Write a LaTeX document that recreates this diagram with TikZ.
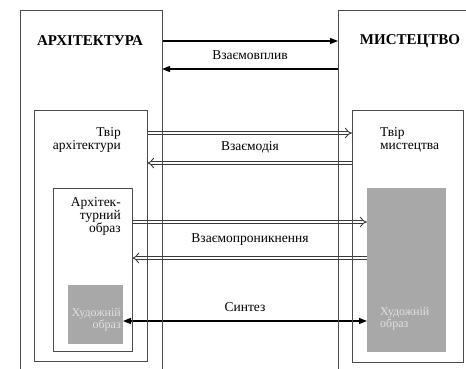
\documentclass[tikz,border=0pt]{standalone}
\usepackage{fontspec}
\setmainfont{Liberation Serif}
\newfontfamily\bookface{Liberation Serif}
\usetikzlibrary{arrows.meta,positioning,backgrounds}

\begin{document}
\begin{tikzpicture}[x=1pt, y=-1pt, every node/.style={font=\bookface\fontsize{13.5}{13}\selectfont},
  frame/.style={draw=black!70,line width=0.9pt,inner sep=0pt,outer sep=0pt,anchor=north west},
  shade/.style={fill=black!34,draw=none,inner sep=0pt,outer sep=0pt,anchor=north west},
  title/.style={font=\bookface\fontsize{15}{15}\selectfont\bfseries},
  caption/.style={inner sep=0pt},
  pale/.style={inner sep=0pt,text=white!88!black,font=\bookface\fontsize{12}{12}\selectfont},
  link/.style={line width=1.3pt,-{Triangle[length=8pt,width=6pt]}},
  flow/.style={draw=black!78,line width=0.9pt,double,double distance=2.8pt,-{Implies[scale=1.5]}},
  >=Stealth]
\useasboundingbox (0,0) rectangle (466,368);
\clip (0,0) rectangle (466,368);
% outer frames
\node[frame,minimum width=142pt,minimum height=370pt] (arch) at (20,10) {};
\node[frame,minimum width=142pt,minimum height=370pt] (art) at (338,10) {};
\node[title] (archname) at (90,41) {АРХІТЕКТУРА};
\node[title] (artname) at (410,41) {МИСТЕЦТВО};
% works
\node[frame,minimum width=113pt,minimum height=251pt] (archwork) at (34,110) {};
\node[frame,minimum width=111pt,minimum height=252pt] (artwork) at (352,110) {};
\node[caption,align=right,anchor=north east] (archworkname) at (121,127) {Твір\\архітектури};
\node[caption,align=left,anchor=north west] (artworkname) at (380,127) {Твір\\мистецтва};
% images
\node[frame,minimum width=79pt,minimum height=163pt] (archimage) at (53,188) {};
\node[caption,align=right,anchor=north east,font=\bookface\fontsize{13.5}{12}\selectfont] (archimagename) at (121,197) {Архітек-\\турний\\образ};
\node[shade,minimum width=55pt,minimum height=59pt] (archgrey) at (68,285) {};
\node[shade,minimum width=79pt,minimum height=164pt] (artgrey) at (367,188) {};
\node[pale,align=right,anchor=north east] (archgreyname) at (121,308) {Художній\\образ};
\node[pale,align=left,anchor=north west] (artgreyname) at (380,307) {Художній\\образ};
% labels
\node (influence) at (250,55) {Взаємовплив};
\node (interaction) at (250,147) {Взаємодія};
\node (penetration) at (250,240) {Взаємопроникнення};
\node (synthesis) at (245,307) {Синтез};
\begin{scope}[on background layer]
\draw[link] ([yshift=-31pt]arch.north east) -- ([yshift=-31pt]art.north west);
\draw[link] ([yshift=-59pt]art.north west) -- ([yshift=-59pt]arch.north east);
\draw[flow] ([yshift=-23pt]archwork.north east) -- ([yshift=-23pt]artwork.north west);
\draw[flow] ([yshift=-53pt]artwork.north west) -- ([yshift=-53pt]archwork.north east);
\draw[flow] ([yshift=-34pt]archimage.north east) -- ([yshift=-34pt]artgrey.north west);
\draw[flow] ([yshift=-70pt]artgrey.north west) -- ([yshift=-70pt]archimage.north east);
\draw[link,{Triangle[length=8pt,width=6pt]}-{Triangle[length=8pt,width=6pt]}] ([yshift=-36pt]archgrey.north east) -- ([yshift=-133pt]artgrey.north west);
\end{scope}
\end{tikzpicture}
\end{document}
